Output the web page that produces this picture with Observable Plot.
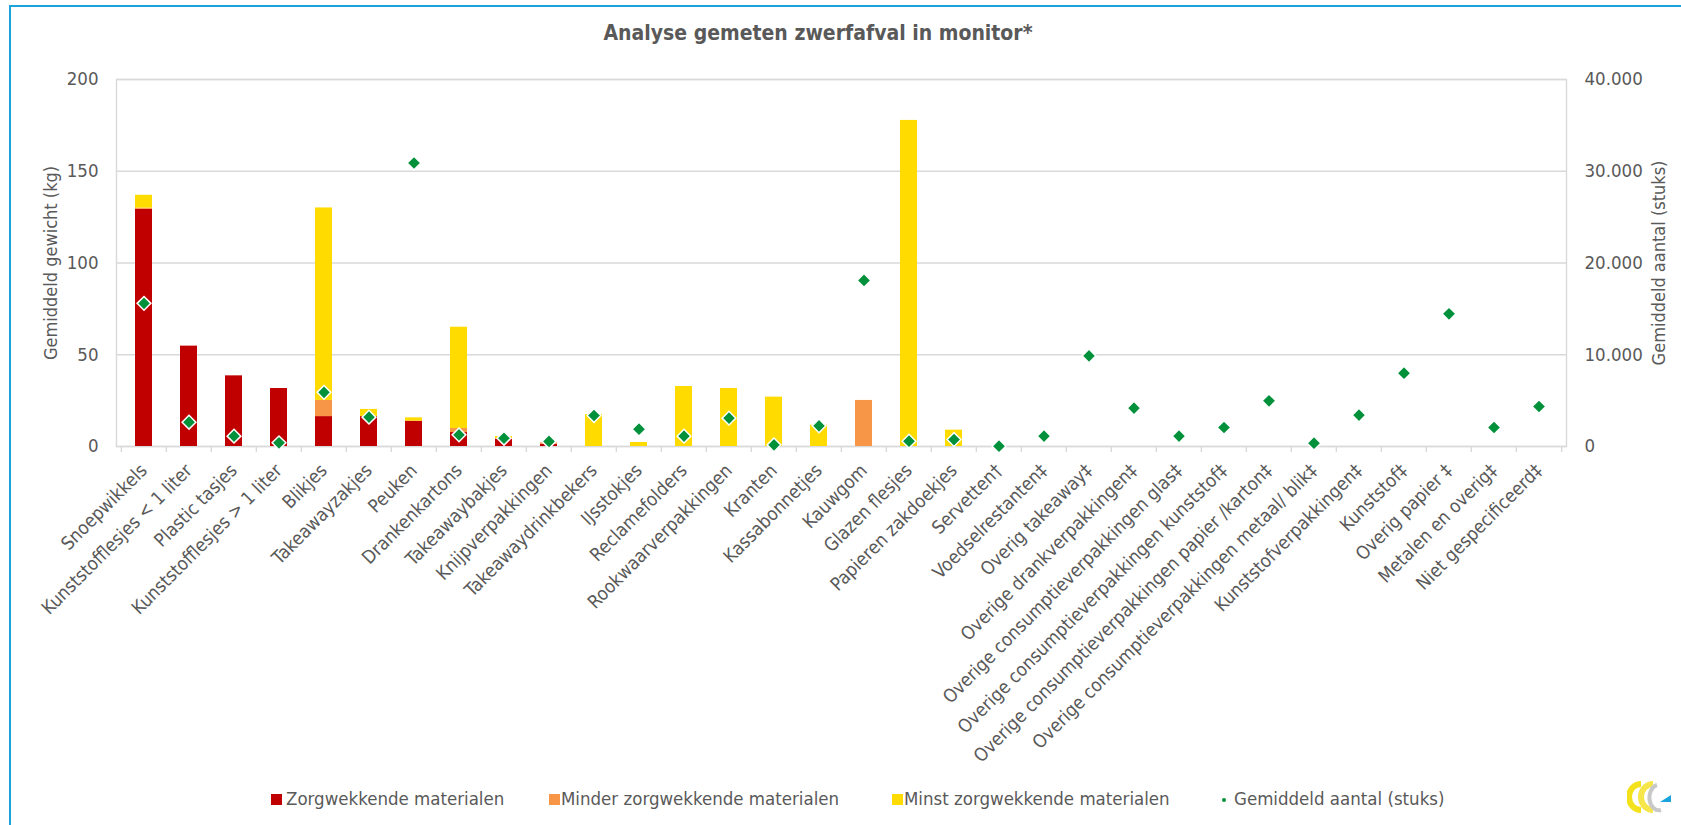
<!DOCTYPE html>
<html>
<head>
<meta charset="utf-8">
<script src="https://cdn.jsdelivr.net/npm/d3@7"></script>
<script src="https://cdn.jsdelivr.net/npm/@observablehq/plot@0.6"></script>
<style>
  html, body { margin: 0; padding: 0; background: #fff; overflow: hidden; }
  body { width: 1681px; height: 825px; position: relative;
         font-family: "DejaVu Sans Condensed", "DejaVu Sans", sans-serif; font-stretch: condensed; color: #595959; }
  #frame { position: absolute; left: 9px; top: 5px; width: 1720px; height: 900px;
           border: 2px solid #1ba3dd; box-sizing: border-box; pointer-events: none; }
  #title { height: 60px; box-sizing: border-box; padding-top: 21px; padding-right: 45px;
           text-align: center; font-size: 21px; font-weight: bold; line-height: 24px; color: #595959; }
  #chart svg { display: block; }
  #legend { position: relative; height: 55px; font-size: 18.5px; }
  .sw { position: absolute; top: 24px; width: 11px; height: 11px; }
  .lt { position: absolute; top: 18px; line-height: 22px; white-space: nowrap; }
  #logo { position: absolute; left: 1627px; top: 781px; }
</style>
</head>
<body>
<div id="frame"></div>
<div id="title"></div>
<div id="chart"></div>
<div id="legend"></div>
<svg id="logo" width="46" height="32" viewBox="0 0 46 32">
  <path d="M14 3 A12 13 0 0 0 14 29" fill="none" stroke="#f3e21b" stroke-width="6"/>
  <path d="M26 3 A12 13 0 0 0 26 29" fill="none" stroke="#f6e64a" stroke-width="6"/>
  <path d="M30 4 A9 12 0 0 0 34 29" fill="none" stroke="#c8c8c8" stroke-width="4"/>
  <path d="M33 21 L44 14 L44 21 Z" fill="#1ba3dd"/>
</svg>
<script>
const titleText = "Analyse gemeten zwerfafval in monitor*";

const categories = [
  "Snoepwikkels", "Kunststofflesjes < 1 liter", "Plastic tasjes", "Kunststofflesjes > 1 liter",
  "Blikjes", "Takeawayzakjes", "Peuken", "Drankenkartons", "Takeawaybakjes", "Knijpverpakkingen",
  "Takeawaydrinkbekers", "IJsstokjes", "Reclamefolders", "Rookwaarverpakkingen", "Kranten",
  "Kassabonnetjes", "Kauwgom", "Glazen flesjes", "Papieren zakdoekjes", "Servetten†",
  "Voedselrestanten‡", "Overig takeaway‡", "Overige drankverpakkingen‡",
  "Overige consumptieverpakkingen glas‡", "Overige consumptieverpakkingen kunststof‡",
  "Overige consumptieverpakkingen papier /karton‡", "Overige consumptieverpakkingen metaal/ blik‡",
  "Kunststofverpakkingen‡", "Kunststof‡", "Overig papier ‡", "Metalen en overig‡", "Niet gespecificeerd‡"
];

const groups = ["Zorgwekkende materialen", "Minder zorgwekkende materialen", "Minst zorgwekkende materialen"];
const groupColors = ["#c00000", "#f79646", "#ffdb00"];

// average weight (kg) per category
const zorgwekkend = [129.2, 54.7, 38.5, 31.6, 16.3, 16.3, 13.8, 7.6, 4.0, 1.2,
  0, 0, 0, 0, 0, 0, 0, 0, 0, 0, 0, 0, 0, 0, 0, 0, 0, 0, 0, 0, 0, 0];
const minderZorgwekkend = [0.7, 0, 0, 0, 8.8, 0, 0, 2.2, 0.3, 0.8,
  0, 0, 0, 0, 0, 0, 25.1, 0, 0, 0, 0, 0, 0, 0, 0, 0, 0, 0, 0, 0, 0, 0];
const minstZorgwekkend = [7.0, 0, 0, 0, 104.9, 3.9, 1.8, 55.2, 1.1, 0,
  17.4, 2.2, 32.7, 31.6, 26.9, 11.6, 0, 177.7, 8.9, 0, 0, 0, 0, 0, 0, 0, 0, 0, 0, 0, 0, 0];

// average count (pieces), right axis
const countLabel = "Gemiddeld aantal (stuks)";
const aantal = [15600, 2650, 1130, 400, 5900, 3200, 30900, 1270, 900, 550,
  3380, 1890, 1130, 3090, 180, 2250, 18100, 580, 760, 30,
  1130, 9880, 4180, 1130, 2070, 4980, 360, 3420, 7990, 14460, 2070, 4360];

const weightTicks = [0, 50, 100, 150, 200];
const countTicks = [0, 10000, 20000, 30000, 40000];
const leftTitle = "Gemiddeld gewicht (kg)";
const rightTitle = "Gemiddeld aantal (stuks)";

const ratio = countTicks[countTicks.length - 1] / weightTicks[weightTicks.length - 1];
const nl = d3.formatLocale({decimal: ",", thousands: ".", grouping: [3], currency: ["€", ""]});
const fmtCount = nl.format(",");

const seriesList = [zorgwekkend, minderZorgwekkend, minstZorgwekkend];
const rows = [];
seriesList.forEach((s, gi) => s.forEach((v, i) => { if (v > 0) rows.push({cat: categories[i], group: groups[gi], value: v}); }));
const counts = categories.map((c, i) => ({cat: c, count: aantal[i]}));

const W = 1681, mL = 116, mR = 115;
const step = (W - mL - mR) / categories.length;
const FONT = '"DejaVu Sans Condensed", "DejaVu Sans", sans-serif';

document.getElementById("title").textContent = titleText;

const chart = Plot.plot({
  width: W, height: 710,
  marginTop: 19, marginLeft: mL, marginRight: mR, marginBottom: 324,
  style: {fontFamily: FONT, fontSize: "17px", color: "#595959", background: "transparent", overflow: "visible"},
  x: {type: "band", domain: categories, paddingInner: 0.62, paddingOuter: 0.31, align: 0.5},
  y: {domain: [0, 200]},
  color: {domain: groups, range: groupColors},
  marks: [
    Plot.ruleY(weightTicks, {stroke: "#d9d9d9", strokeWidth: 1.4}),
    Plot.frame({stroke: "#d9d9d9", strokeWidth: 1.4}),
    Plot.ruleX(categories, {x: d => d, y1: 0, y2: 0, dx: -step / 2, insetBottom: -6, stroke: "#d9d9d9", strokeWidth: 1.4}),
    Plot.ruleX(categories.slice(-1), {x: d => d, y1: 0, y2: 0, dx: step / 2, insetBottom: -6, stroke: "#d9d9d9", strokeWidth: 1.4}),
    Plot.barY(rows, {x: "cat", y: "value", fill: "group", order: groups}),
    Plot.dot(counts, {x: "cat", y: d => d.count / ratio, symbol: "diamond2", r: 6.2,
      fill: "#00913a", stroke: "white", strokeWidth: 1.5}),
    Plot.axisY({ticks: weightTicks, tickSize: 0, tickPadding: 18, label: null, fontSize: 18.5}),
    Plot.axisY({anchor: "right", ticks: countTicks.map(c => c / ratio), tickFormat: d => fmtCount(d * ratio),
      tickSize: 0, tickPadding: 18, label: null, fontSize: 18.5}),
    Plot.axisX({tickRotate: -45, tickSize: 0, tickPadding: 21, label: null, fontSize: 18.5}),
    Plot.text([leftTitle], {frameAnchor: "left", textAnchor: "middle", dx: -65, rotate: -90, fontSize: 18, fill: "#595959"}),
    Plot.text([rightTitle], {frameAnchor: "right", textAnchor: "middle", dx: 93, rotate: -90, fontSize: 18, fill: "#595959"})
  ]
});
document.getElementById("chart").appendChild(chart);

// legend
const legend = document.getElementById("legend");
const legendItems = [
  {label: groups[0], color: groupColors[0], sw: 271, tx: 286, kind: "square"},
  {label: groups[1], color: groupColors[1], sw: 549, tx: 561, kind: "square"},
  {label: groups[2], color: groupColors[2], sw: 892, tx: 904, kind: "square"},
  {label: countLabel, color: "#00913a", sw: 1222, tx: 1234, kind: "dot"}
];
legendItems.forEach(it => {
  const s = document.createElement("div");
  s.className = "sw";
  s.style.left = it.sw + "px";
  s.style.background = it.color;
  if (it.kind === "dot") { s.style.width = "4px"; s.style.height = "4px"; s.style.top = "28px"; s.style.borderRadius = "2px"; }
  legend.appendChild(s);
  const t = document.createElement("div");
  t.className = "lt";
  t.style.left = it.tx + "px";
  t.textContent = it.label;
  legend.appendChild(t);
});
</script>
</body>
</html>
